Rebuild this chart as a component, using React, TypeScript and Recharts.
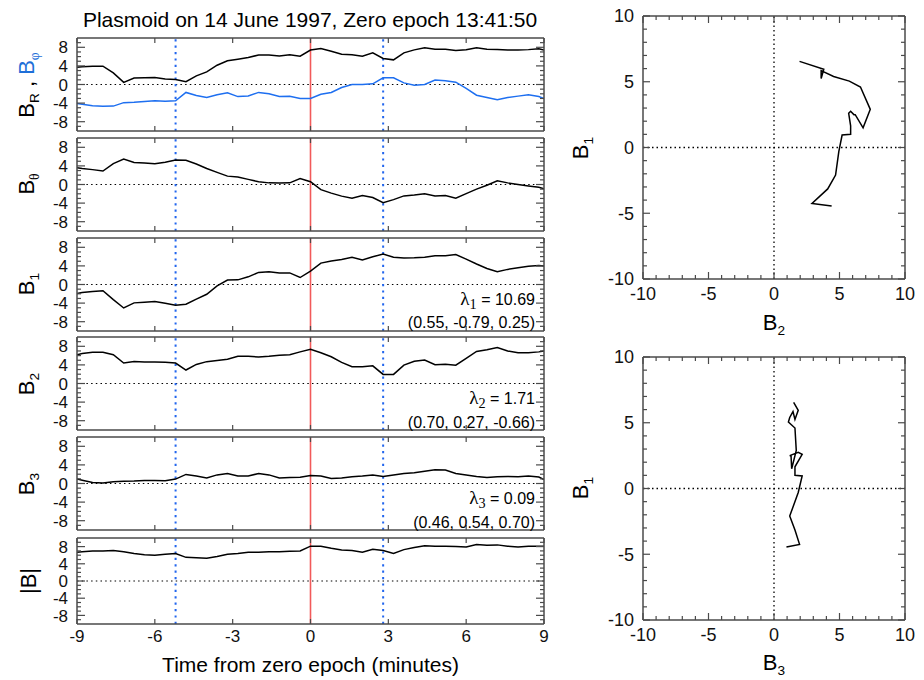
import React from "react";
import { LineChart, Line, XAxis, YAxis, ReferenceLine } from "recharts";

// minutes from zero epoch (13:41:50)
const minutes = [
  -9, -8.8, -8.4, -8.0, -7.6, -7.2, -6.8, -6.4, -6.0, -5.6, -5.2, -4.8,
  -4.4, -4.0, -3.6, -3.2, -2.8, -2.4, -2.0, -1.6, -1.2, -0.8, -0.4, 0,
  0.4, 0.8, 1.2, 1.6, 2.0, 2.4, 2.8, 3.2, 3.6, 4.0, 4.4, 4.8,
  5.2, 5.6, 6.0, 6.4, 6.8, 7.2, 7.6, 8.0, 8.4, 8.8, 9.0,
];

const bR = [
  3.7, 3.8, 3.95, 3.95, 2.5, 0.45, 1.4, 1.45, 1.5, 1.2, 1.05, 0.6,
  1.85, 2.7, 4.15, 5.1, 5.45, 5.8, 6.35, 6.35, 6.15, 6.4, 6.1, 7.4,
  7.75, 7.15, 6.5, 6.4, 6.1, 6.8, 5.6, 5.3, 6.8, 7.45, 7.9, 7.6,
  7.6, 7.3, 7.45, 7.9, 7.6, 7.55, 7.4, 7.4, 7.5, 7.7, 7.4,
];
const bPhi = [
  -4.1, -4.25, -4.55, -4.7, -4.65, -3.9, -3.8, -3.65, -3.5, -3.6, -3.5, -1.7,
  -2.35, -2.8, -2.2, -1.8, -2.6, -2.45, -1.7, -2.0, -2.6, -2.55, -3.0, -3.0,
  -2.1, -1.7, -0.65, 0, 0, 0.15, 1.45, 1.45, 0.35, -0.15, 0, 0.95,
  0.8, 0.5, -0.85, -2.3, -2.8, -3.3, -2.8, -2.5, -2.2, -2.6, -3.0,
];
const bTheta = [
  3.6, 3.45, 3.2, 2.9, 4.5, 5.45, 4.75, 4.6, 4.45, 4.8, 5.25, 5.2,
  4.4, 3.45, 2.6, 1.8, 1.6, 1.1, 0.6, 0.35, 0.3, 0.35, 1.3, 0.6,
  -1.1, -1.85, -2.5, -2.95, -2.35, -2.8, -3.9, -3.25, -2.45, -2.25, -2.0, -2.45,
  -2.35, -2.95, -1.95, -1.0, -0.15, 0.8, 0.35, 0, -0.3, -0.6, -0.9,
];
const b1 = [
  -1.95, -1.7, -1.5, -1.35, -3.25, -5.05, -3.95, -3.8, -3.65, -4.05, -4.45, -4.25,
  -3.15, -2.1, -0.3, 0.95, 1.0, 1.65, 2.6, 2.75, 2.5, 2.5, 1.5, 2.9,
  4.6, 5.05, 5.4, 5.85, 5.25, 5.95, 6.55, 5.85, 5.7, 5.75, 5.85, 6.2,
  6.2, 6.45, 5.45, 4.4, 3.45, 2.75, 3.25, 3.6, 3.9, 4.1, 4.0,
];
const b2 = [
  6.2, 6.45, 6.7, 6.7, 6.2, 4.4, 4.75, 4.6, 4.6, 4.55, 4.4, 2.9,
  4.1, 4.7, 4.95, 5.2, 5.85, 5.85, 5.7, 5.85, 6.1, 6.2, 6.8, 7.35,
  6.6, 5.75, 4.55, 3.6, 3.6, 3.8, 1.95, 1.95, 3.95, 4.8, 5.05, 4.05,
  4.15, 3.95, 5.4, 6.9, 7.25, 7.75, 7.0, 6.6, 6.6, 6.8, 7.0,
];
const b3 = [
  0.95, 0.7, 0.2, 0.1, 0.4, 0.5, 0.55, 0.65, 0.65, 0.6, 0.95, 1.95,
  1.6, 1.2, 1.85, 2.15, 1.6, 1.6, 2.15, 1.85, 1.2, 1.3, 1.35, 1.7,
  1.6, 1.1, 1.2, 1.45, 1.6, 1.85, 1.5, 1.85, 2.15, 2.3, 2.65, 2.95,
  2.9, 2.15, 1.85, 1.5, 1.3, 1.45, 1.5, 1.45, 1.6, 1.4, 0.85,
];
const bMag = [
  6.7, 6.8, 7.0, 7.0, 7.1, 6.8, 6.4, 6.1, 6.0, 6.2, 6.4, 5.5,
  5.4, 5.3, 5.7, 6.2, 6.4, 6.7, 6.7, 6.8, 6.8, 6.9, 7.0, 8.1,
  8.1, 7.6, 7.2, 7.1, 6.7, 7.4, 7.1, 6.4, 7.3, 7.8, 8.2, 8.1,
  8.1, 8.0, 7.9, 8.5, 8.3, 8.4, 8.1, 7.9, 8.1, 8.1, 8.1,
];

// plasmoid boundaries (blue dotted) used for the hodograms
const boundaries = [-5.2, 2.8];
const eigenLabels = ["10.69", "1.71", "0.09"];
const eigenVectors = ["(0.55, -0.79, 0.25)", "(0.70, 0.27, -0.66)", "(0.46, 0.54, 0.70)"];

const timeTicks = [-9, -6, -3, 0, 3, 6, 9];
const fieldTicks = [-9, -8, -7, -6, -5, -4, -3, -2, -1, 0, 1, 2, 3, 4, 5, 6, 7, 8, 9];
const hodoTicks = [-10, -9, -8, -7, -6, -5, -4, -3, -2, -1, 0, 1, 2, 3, 4, 5, 6, 7, 8, 9, 10];

const FRAME = "#4a4a4a";
const BLUE = "#1e6ff0";
const RED = "#f25a5a";
const FONT = "'Liberation Sans', Arial, Helvetica, sans-serif";
const SERIF = "'Liberation Serif', 'Times New Roman', serif";
const axisLine = { stroke: FRAME, strokeWidth: 1.5 };

type Side = "left" | "right" | "top" | "bottom";

// IDL-style inward ticks, longer at labelled values
function makeTick(side: Side, every: number, majorLen: number, minorLen: number, gap: number, labels: boolean, fontSize: number) {
  return (props: any) => {
    const { x, y, payload } = props;
    const v = payload.value as number;
    const major = Math.abs(v % every) < 1e-6;
    const len = major ? majorLen : minorLen;
    let x1 = x, y1 = y, x2 = x, y2 = y;
    if (side === "left") { x1 = x + gap; x2 = x1 + len; }
    if (side === "right") { x1 = x - gap; x2 = x1 - len; }
    if (side === "bottom") { y1 = y - gap; y2 = y1 - len; }
    if (side === "top") { y1 = y + gap; y2 = y1 + len; }
    return (
      <g>
        <line x1={x1} y1={y1} x2={x2} y2={y2} stroke={FRAME} strokeWidth={1.2} />
        {labels && major && (
          <text
            x={x}
            y={y}
            dy={side === "left" ? "0.36em" : "0.72em"}
            textAnchor={side === "left" ? "end" : "middle"}
            fontSize={fontSize}
            fontFamily={FONT}
            fill="#111"
          >
            {v}
          </text>
        )}
      </g>
    );
  };
}

const sub = (s: string, serif = false) => (
  <span style={{ fontSize: "0.62em", verticalAlign: "-0.35em", fontFamily: serif ? SERIF : FONT }}>{s}</span>
);

interface PanelProps {
  top: number;
  height: number;
  data: any[];
  series: { key: string; color: string }[];
  showTime?: boolean;
}

function TimePanel({ top, height, data, series, showTime }: PanelProps) {
  const padTop = 10;
  const padBottom = showTime ? 40 : 10;
  return (
    <div style={{ position: "absolute", left: 0, top: top - padTop }}>
      <LineChart
        width={560}
        height={height + padTop + padBottom}
        data={data}
        margin={{ top: padTop - 1, right: 15, bottom: showTime ? 0 : padBottom - 1, left: 32 }}
      >
        <XAxis
          xAxisId="b"
          dataKey="t"
          type="number"
          domain={[-9, 9]}
          ticks={timeTicks}
          interval={0}
          tickSize={0}
          tickMargin={showTime ? 6 : 0}
          height={showTime ? padBottom : 1}
          axisLine={axisLine}
          tick={makeTick("bottom", 3, 5, 5, showTime ? 6 : 0, !!showTime, 17)}
          allowDataOverflow
        />
        <XAxis
          xAxisId="t"
          orientation="top"
          dataKey="t"
          type="number"
          domain={[-9, 9]}
          ticks={timeTicks}
          interval={0}
          tickSize={0}
          tickMargin={0}
          height={1}
          axisLine={axisLine}
          tick={makeTick("top", 3, 5, 5, 0, false, 17)}
          allowDataOverflow
        />
        <YAxis
          yAxisId="l"
          type="number"
          domain={[-10, 10]}
          ticks={fieldTicks}
          interval={0}
          tickSize={0}
          tickMargin={9}
          width={45}
          axisLine={axisLine}
          tick={makeTick("left", 4, 8, 4, 9, true, 17)}
          allowDataOverflow
        />
        <YAxis
          yAxisId="r"
          orientation="right"
          type="number"
          domain={[-10, 10]}
          ticks={fieldTicks}
          interval={0}
          tickSize={0}
          tickMargin={0}
          width={1}
          axisLine={axisLine}
          tick={makeTick("right", 4, 8, 4, 0, false, 17)}
          allowDataOverflow
        />
        <ReferenceLine xAxisId="b" yAxisId="l" y={0} stroke="#000" strokeWidth={1.2} strokeDasharray="1.5 3.2" />
        {boundaries.map((b) => (
          <ReferenceLine key={b} xAxisId="b" yAxisId="l" x={b} stroke="#2266ee" strokeWidth={2} strokeDasharray="2.2 4.2" />
        ))}
        <ReferenceLine xAxisId="b" yAxisId="l" x={0} stroke={RED} strokeWidth={1.6} />
        {series.map((s) => (
          <Line
            key={s.key}
            xAxisId="b"
            yAxisId="l"
            dataKey={s.key}
            stroke={s.color}
            strokeWidth={1.5}
            dot={false}
            isAnimationActive={false}
          />
        ))}
      </LineChart>
    </div>
  );
}

function HodoPanel({ top, data }: { top: number; data: { x: number; y: number }[] }) {
  return (
    <div style={{ position: "absolute", left: 560, top: top - 10 }}>
      <LineChart width={364} height={263 + 10 + 40} data={data} margin={{ top: 9, right: 18, bottom: 0, left: 38 }}>
        <XAxis
          xAxisId="b"
          dataKey="x"
          type="number"
          domain={[-10, 10]}
          ticks={hodoTicks}
          interval={0}
          tickSize={0}
          tickMargin={8}
          height={40}
          axisLine={axisLine}
          tick={makeTick("bottom", 5, 7, 4, 8, true, 18)}
          allowDataOverflow
        />
        <XAxis
          xAxisId="t"
          orientation="top"
          dataKey="x"
          type="number"
          domain={[-10, 10]}
          ticks={hodoTicks}
          interval={0}
          tickSize={0}
          tickMargin={0}
          height={1}
          axisLine={axisLine}
          tick={makeTick("top", 5, 7, 4, 0, false, 18)}
          allowDataOverflow
        />
        <YAxis
          yAxisId="l"
          type="number"
          domain={[-10, 10]}
          ticks={hodoTicks}
          interval={0}
          tickSize={0}
          tickMargin={9}
          width={45}
          axisLine={axisLine}
          tick={makeTick("left", 5, 7, 4, 9, true, 18)}
          allowDataOverflow
        />
        <YAxis
          yAxisId="r"
          orientation="right"
          type="number"
          domain={[-10, 10]}
          ticks={hodoTicks}
          interval={0}
          tickSize={0}
          tickMargin={0}
          width={1}
          axisLine={axisLine}
          tick={makeTick("right", 5, 7, 4, 0, false, 18)}
          allowDataOverflow
        />
        <ReferenceLine xAxisId="b" yAxisId="l" y={0} stroke="#000" strokeWidth={1.3} strokeDasharray="1.5 3" />
        <ReferenceLine xAxisId="b" yAxisId="l" x={0} stroke="#000" strokeWidth={1.3} strokeDasharray="1.5 3" />
        <Line
          xAxisId="b"
          yAxisId="l"
          dataKey="y"
          stroke="#000"
          strokeWidth={1.5}
          dot={false}
          isAnimationActive={false}
        />
      </LineChart>
    </div>
  );
}

const abs = (extra: React.CSSProperties): React.CSSProperties => ({
  position: "absolute",
  whiteSpace: "nowrap",
  lineHeight: 1,
  fontFamily: FONT,
  color: "#000",
  ...extra,
});

export default function App() {
  const rows = minutes.map((t, i) => ({
    t,
    bR: bR[i],
    bPhi: bPhi[i],
    bTheta: bTheta[i],
    b1: b1[i],
    b2: b2[i],
    b3: b3[i],
    bMag: bMag[i],
  }));
  const inside = rows.filter((r) => r.t >= boundaries[0] - 1e-6 && r.t <= boundaries[1] + 1e-6);
  const hodo12 = inside.map((r) => ({ x: r.b2, y: r.b1 }));
  const hodo13 = inside.map((r) => ({ x: r.b3, y: r.b1 }));

  const panels = [
    { top: 38, height: 93, series: [{ key: "bR", color: "#000" }, { key: "bPhi", color: BLUE }] },
    { top: 137.5, height: 93, series: [{ key: "bTheta", color: "#000" }] },
    { top: 237.5, height: 93, series: [{ key: "b1", color: "#000" }] },
    { top: 337, height: 93, series: [{ key: "b2", color: "#000" }] },
    { top: 437, height: 93, series: [{ key: "b3", color: "#000" }] },
    { top: 538, height: 86, series: [{ key: "bMag", color: "#000" }] },
  ];
  const yLabels = [
    <>
      B{sub("R")}
      <span> , </span>
      <span style={{ color: "#1e6fd8" }}>B{sub("φ", true)}</span>
    </>,
    <>B{sub("θ", true)}</>,
    <>B{sub("1")}</>,
    <>B{sub("2")}</>,
    <>B{sub("3")}</>,
    <>|B|</>,
  ];

  return (
    <div style={{ position: "absolute", left: 0, top: 0, width: 924, height: 680, background: "#fff", overflow: "hidden" }}>
      <div style={abs({ left: 310, top: 19, transform: "translate(-50%, -50%)", fontSize: 21 })}>
        Plasmoid on 14 June 1997, Zero epoch 13:41:50
      </div>

      {panels.map((p, i) => (
        <TimePanel key={i} top={p.top} height={p.height} data={rows} series={p.series} showTime={i === panels.length - 1} />
      ))}

      {panels.map((p, i) => (
        <div
          key={"yl" + i}
          style={abs({ left: 29, top: p.top + p.height / 2, transform: "translate(-50%, -50%) rotate(-90deg)", fontSize: 22 })}
        >
          {yLabels[i]}
        </div>
      ))}

      {eigenLabels.map((ev, i) => (
        <div
          key={"ev" + i}
          style={abs({ right: 924 - 535, top: panels[i + 2].top + 51, textAlign: "right", fontSize: 16, lineHeight: "19px" })}
        >
          <div>
            <span style={{ fontFamily: SERIF, fontSize: 19 }}>
              λ<span style={{ fontSize: "0.75em", verticalAlign: "-0.25em" }}>{i + 1}</span>
            </span>{" "}
            = {ev}
          </div>
          <div>{eigenVectors[i]}</div>
        </div>
      ))}

      <div style={abs({ left: 310.5, top: 664, transform: "translate(-50%, -50%)", fontSize: 21 })}>
        Time from zero epoch (minutes)
      </div>

      <HodoPanel top={16} data={hodo12} />
      <HodoPanel top={357} data={hodo13} />

      <div style={abs({ left: 774, top: 325, transform: "translate(-50%, -50%)", fontSize: 22 })}>B{sub("2")}</div>
      <div style={abs({ left: 774, top: 665, transform: "translate(-50%, -50%)", fontSize: 22 })}>B{sub("3")}</div>
      <div style={abs({ left: 583, top: 148, transform: "translate(-50%, -50%) rotate(-90deg)", fontSize: 22 })}>B{sub("1")}</div>
      <div style={abs({ left: 583, top: 488, transform: "translate(-50%, -50%) rotate(-90deg)", fontSize: 22 })}>B{sub("1")}</div>
    </div>
  );
}
